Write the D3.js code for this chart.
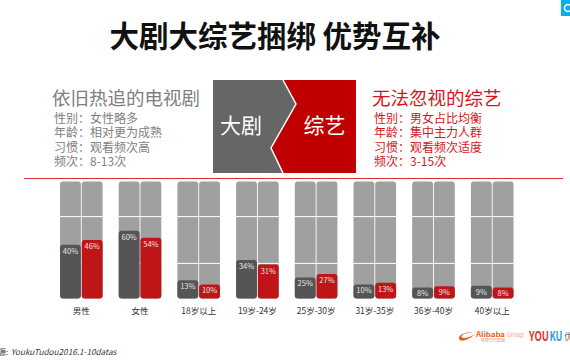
<!DOCTYPE html>
<html>
<head>
<meta charset="utf-8">
<script src="https://cdn.jsdelivr.net/npm/d3@7"></script>
<style>
html, body { margin: 0; padding: 0; background: #fff; }
svg { display: block; }
text { font-family: "Noto Sans CJK SC", "Noto Sans", sans-serif; }
</style>
</head>
<body>
<script>
var categories = ["男性", "女性", "18岁以上", "19岁-24岁", "25岁-30岁", "31岁-35岁", "36岁-40岁", "40岁以上"];
var seriesNames = ["大剧", "综艺"];

// the percentages printed on the bars
var dramaLabels = [40, 60, 13, 34, 25, 10, 8, 9];
var varietyLabels = [46, 54, 10, 31, 27, 13, 9, 8];

// in the source these don't follow the printed numbers exactly
var dramaHeights = [46, 58, 15.5, 33, 18, 12, 9.5, 11];
var varietyHeights = [50, 52, 12, 29, 21, 13.5, 10.5, 9.5];

var gridValues = [30, 70];

var leftHeading = "依旧热追的电视剧";
var leftLines = ["性别\uff1a女性略多", "年龄\uff1a相对更为成熟", "习惯\uff1a观看频次高", "频次\uff1a8-13次"];
var rightHeading = "无法忽视的综艺";
var rightLines = ["性别\uff1a男女占比均衡", "年龄\uff1a集中主力人群", "习惯\uff1a观看频次适度", "频次\uff1a3-15次"];

var width = 570,
    height = 360;

var svg = d3.select("body").append("svg")
    .attr("width", width)
    .attr("height", height);

// title
svg.append("text")
    .attr("x", 275)
    .attr("y", 47)
    .attr("text-anchor", "middle")
    .attr("font-size", 29.5)
    .attr("font-weight", 700)
    .attr("fill", "#111")
    .text("大剧大综艺捆绑 优势互补");

// corner badge
svg.append("rect")
    .attr("x", 561).attr("y", 0)
    .attr("width", 9).attr("height", 16)
    .attr("fill", "#08aeea");
svg.append("circle")
    .attr("cx", 568).attr("cy", 8).attr("r", 3.5)
    .attr("fill", "none")
    .attr("stroke", "#fff")
    .attr("stroke-width", 1.5);

// text blocks either side of the chevron
function textBlock(x, heading, lines, color) {
    svg.append("text")
        .attr("x", x)
        .attr("y", 105)
        .attr("font-size", 18.5)
        .attr("fill", color)
        .text(heading);
    svg.selectAll(null)
        .data(lines)
        .enter().append("text")
        .attr("x", x + 2)
        .attr("y", function (d, i) { return 122.5 + i * 14.5; })
        .attr("font-size", 12)
        .attr("fill", color)
        .text(function (d) { return d; });
}
textBlock(52, leftHeading, leftLines, "#808080");
textBlock(372, rightHeading, rightLines, "#d7141c");

// center chevron
svg.append("rect")
    .attr("x", 213).attr("y", 80)
    .attr("width", 143).attr("height", 93)
    .attr("fill", "#c00000");
var chevron = d3.line()([[283, 80], [296, 104], [271, 148], [283, 173]]);
svg.append("path")
    .attr("d", "M213,80L" + chevron.slice(1) + "L213,173Z")
    .attr("fill", "#666");
svg.append("path")
    .attr("d", chevron)
    .attr("fill", "none")
    .attr("stroke", "#fff")
    .attr("stroke-width", 1.5);
svg.selectAll(null)
    .data(seriesNames)
    .enter().append("text")
    .attr("x", function (d, i) { return i ? 324.5 : 241; })
    .attr("y", 133)
    .attr("text-anchor", "middle")
    .attr("font-size", 21)
    .attr("fill", "#fff")
    .text(function (d) { return d; });

// red rule
svg.append("line")
    .attr("x1", 24).attr("x2", 563)
    .attr("y1", 178.5).attr("y2", 178.5)
    .attr("stroke", "#e2303a")
    .attr("stroke-width", 1);

// scales
var x = d3.scaleBand()
    .domain(categories)
    .range([60, 513.5])
    .paddingInner(0.274)
    .paddingOuter(0);

var xSeries = d3.scaleBand()
    .domain(seriesNames)
    .range([0, x.bandwidth()])
    .paddingInner(0.04);

var y = d3.scaleLinear()
    .domain([0, 100])
    .range([298.5, 181.5]);

var rows = categories.map(function (c, i) {
    return {
        category: c,
        bars: [
            {series: seriesNames[0], label: dramaLabels[i], value: dramaHeights[i], color: "#555555"},
            {series: seriesNames[1], label: varietyLabels[i], value: varietyHeights[i], color: "#bd1518"}
        ]
    };
});

var groups = svg.selectAll(".group")
    .data(rows)
    .enter().append("g")
    .attr("class", "group")
    .attr("transform", function (d) { return "translate(" + x(d.category) + ",0)"; });

// grey full-height columns
groups.selectAll(".column")
    .data(function (d) { return d.bars; })
    .enter().append("rect")
    .attr("class", "column")
    .attr("x", function (d) { return xSeries(d.series); })
    .attr("y", y(100))
    .attr("width", xSeries.bandwidth())
    .attr("height", y(0) - y(100))
    .attr("rx", 3)
    .attr("fill", "#a0a0a0");

// white lines go behind the coloured bars
groups.selectAll(".grid")
    .data(gridValues)
    .enter().append("line")
    .attr("class", "grid")
    .attr("x1", 0)
    .attr("x2", x.bandwidth())
    .attr("y1", function (d) { return y(d); })
    .attr("y2", function (d) { return y(d); })
    .attr("stroke", "#fff")
    .attr("stroke-width", 1);

groups.selectAll(".bar")
    .data(function (d) { return d.bars; })
    .enter().append("rect")
    .attr("class", "bar")
    .attr("x", function (d) { return xSeries(d.series); })
    .attr("y", function (d) { return y(d.value); })
    .attr("width", xSeries.bandwidth())
    .attr("height", function (d) { return y(0) - y(d.value); })
    .attr("rx", 3)
    .attr("fill", function (d) { return d.color; });

groups.selectAll(".value")
    .data(function (d) { return d.bars; })
    .enter().append("text")
    .attr("class", "value")
    .attr("x", function (d) { return xSeries(d.series) + xSeries.bandwidth() / 2; })
    .attr("y", function (d) { return y(d.value) + 9; })
    .attr("text-anchor", "middle")
    .attr("font-size", 7.5)
    .attr("fill", "#e6e6e6")
    .text(function (d) { return d.label + "%"; });

// category labels
var xAxis = svg.append("g")
    .attr("transform", "translate(0,298.5)")
    .call(d3.axisBottom(x).tickSize(0).tickPadding(9));
xAxis.select(".domain").remove();
xAxis.selectAll("text")
    .attr("font-size", 8.5)
    .attr("font-family", "\"Noto Sans CJK SC\", sans-serif")
    .attr("fill", "#333");

// source note, runs off the left edge
svg.append("text")
    .attr("x", -2)
    .attr("y", 355)
    .attr("font-size", 8)
    .attr("fill", "#333")
    .text("源:");
svg.append("text")
    .attr("x", 11)
    .attr("y", 355)
    .attr("font-size", 8.2)
    .attr("font-style", "italic")
    .attr("fill", "#333")
    .text("YoukuTudou2016.1-10datas");

// logos at bottom right
svg.append("path")
    .attr("d", "M459,339C458,335 465,332 473,332L466,333.5C461,335 460,338 464,338C467,338 472,336 475,334C470,339 461,343 459,339Z")
    .attr("fill", "#f05a22");
svg.append("text")
    .attr("x", 476).attr("y", 336.5)
    .attr("font-size", 7)
    .attr("font-weight", 700)
    .attr("textLength", 29)
    .attr("lengthAdjust", "spacingAndGlyphs")
    .attr("fill", "#f05a22")
    .text("Alibaba");
svg.append("text")
    .attr("x", 507).attr("y", 336.5)
    .attr("font-size", 6.5)
    .attr("textLength", 17)
    .attr("lengthAdjust", "spacingAndGlyphs")
    .attr("fill", "#f3a27f")
    .text("Group");
svg.append("text")
    .attr("x", 481).attr("y", 341.5)
    .attr("font-size", 4)
    .attr("fill", "#f08a5a")
    .text("阿里巴巴集团");
svg.append("text")
    .attr("x", 529).attr("y", 340.5)
    .attr("font-size", 13)
    .attr("font-weight", 700)
    .attr("font-family", "Arial, 'Liberation Sans', sans-serif")
    .attr("textLength", 20)
    .attr("lengthAdjust", "spacingAndGlyphs")
    .attr("fill", "#e8352e")
    .text("YOU");
svg.append("text")
    .attr("x", 549.5).attr("y", 340.5)
    .attr("font-size", 13)
    .attr("font-weight", 700)
    .attr("font-family", "Arial, 'Liberation Sans', sans-serif")
    .attr("textLength", 13)
    .attr("lengthAdjust", "spacingAndGlyphs")
    .attr("fill", "#2aa5e0")
    .text("KU");
svg.append("text")
    .attr("x", 564).attr("y", 340)
    .attr("font-size", 9)
    .attr("fill", "#666")
    .text("优");
</script>
</body>
</html>
